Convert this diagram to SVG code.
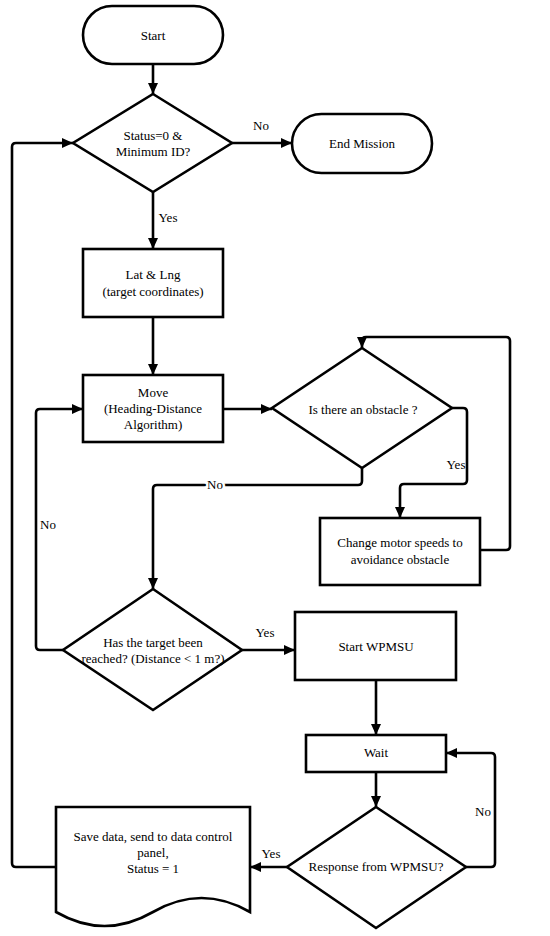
<svg xmlns="http://www.w3.org/2000/svg" width="550" height="936" viewBox="0 0 550 936" font-family="'Liberation Serif', 'Times New Roman', 'DejaVu Serif', serif" font-size="13">
<style>
.s{fill:#fff;stroke:#000;stroke-width:2.6}
.c{fill:none;stroke:#000;stroke-width:2.6;stroke-linejoin:round}
text{font-family:'Liberation Serif','Times New Roman','DejaVu Serif',serif;font-size:13px;fill:#000;text-anchor:middle}
.h{stroke:#fff;stroke-width:5;paint-order:stroke}
</style>
<defs>
<marker id="a" markerUnits="userSpaceOnUse" markerWidth="12" markerHeight="10" refX="11" refY="5" orient="auto">
<path d="M0,0 L11,5 L0,10 Z" fill="#000"/>
</marker>
</defs>
<rect width="550" height="936" fill="#fff"/>
<g id="connectors">
<path class="c" marker-end="url(#a)" d="M153,64 V94"/>
<path class="c" marker-end="url(#a)" d="M232,143 H292"/>
<path class="c" marker-end="url(#a)" d="M153,192 V249"/>
<path class="c" marker-end="url(#a)" d="M153,317 V375"/>
<path class="c" marker-end="url(#a)" d="M223,409 H272"/>
<path class="c" marker-end="url(#a)" d="M452,408 H463 Q467,408 467,412 V480 Q467,484 463,484 H404 Q400,484 400,488 V518"/>
<path class="c" marker-end="url(#a)" d="M480,550 H506 Q510,550 510,546 V341 Q510,337 506,337 H366 Q362,337 362,341 V348"/>
<path class="c" marker-end="url(#a)" d="M362,468 V481 Q362,485 358,485 H157 Q153,485 153,489 V589"/>
<path class="c" marker-end="url(#a)" d="M63,650 H40 Q36,650 36,646 V413 Q36,409 40,409 H83"/>
<path class="c" marker-end="url(#a)" d="M242,650 H295"/>
<path class="c" marker-end="url(#a)" d="M376,680 V735"/>
<path class="c" marker-end="url(#a)" d="M376,772 V807"/>
<path class="c" marker-end="url(#a)" d="M466,867 H491 Q495,867 495,863 V757 Q495,753 491,753 H446"/>
<path class="c" marker-end="url(#a)" d="M287,867 H250"/>
<path class="c" marker-end="url(#a)" d="M56,867 H16 Q12,867 12,863 V147 Q12,143 16,143 H73"/>
<text x="261" y="130">No</text>
<text x="168" y="222">Yes</text>
<text x="456" y="469">Yes</text>
<text class="h" x="215" y="489">No</text>
<text x="48" y="529">No</text>
<text x="265" y="637">Yes</text>
<text x="483" y="816">No</text>
<text x="271" y="858">Yes</text>
</g>
<g id="start">
<rect class="s" x="83" y="6" width="140" height="58" rx="29"/>
<text x="153" y="40">Start</text>
</g>
<g id="decision-status">
<path class="s" d="M153,94 L232,143 L153,192 L73,143 Z"/>
<text x="153" y="140">Status=0 &amp;</text>
<text x="153" y="156">Minimum ID?</text>
</g>
<g id="end-mission">
<rect class="s" x="292" y="114" width="140" height="59" rx="29.5"/>
<text x="362" y="148">End Mission</text>
</g>
<g id="lat-lng">
<rect class="s" x="83" y="249" width="140" height="68"/>
<text x="153" y="279">Lat &amp; Lng</text>
<text x="153" y="296">(target coordinates)</text>
</g>
<g id="move">
<rect class="s" x="83" y="375" width="140" height="67"/>
<text x="153" y="397">Move</text>
<text x="153" y="413">(Heading-Distance</text>
<text x="153" y="429">Algorithm)</text>
</g>
<g id="decision-obstacle">
<path class="s" d="M362,348 L452,408 L362,468 L272,408 Z"/>
<text x="363" y="414">Is there an obstacle ?</text>
</g>
<g id="change-motor">
<rect class="s" x="320" y="518" width="160" height="67"/>
<text x="400" y="547">Change motor speeds to</text>
<text x="400" y="564">avoidance obstacle</text>
</g>
<g id="decision-target">
<path class="s" d="M153,589 L242,650 L153,710 L63,650 Z"/>
<text x="153" y="647">Has the target been</text>
<text x="153" y="663">reached? (Distance &lt; 1 m?)</text>
</g>
<g id="start-wpmsu">
<rect class="s" x="295" y="612" width="161" height="68"/>
<text x="376" y="651">Start WPMSU</text>
</g>
<g id="wait">
<rect class="s" x="306" y="735" width="140" height="37"/>
<text x="376" y="757">Wait</text>
</g>
<g id="decision-response">
<path class="s" d="M376,807 L466,867 L376,928 L287,867 Z"/>
<text x="376" y="871">Response from WPMSU?</text>
</g>
<g id="save-data">
<path class="s" d="M56,807 H250 V912 Q201.5,884 153,912 T56,912 Z"/>
<text x="153" y="841">Save data, send to data control</text>
<text x="153" y="857">panel,</text>
<text x="153" y="873">Status = 1</text>
</g>
</svg>
